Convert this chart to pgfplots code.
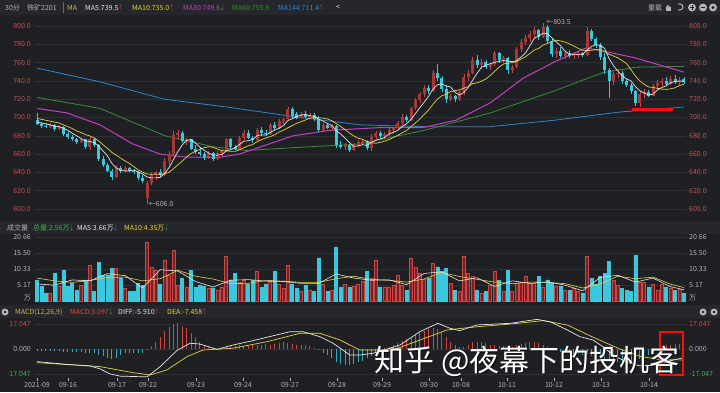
\documentclass[border=0pt]{standalone}
\usepackage{fontspec}
\setmainfont{Noto Sans CJK SC}
\usepackage{graphicx}
\usepackage{pgfplots}
\pgfplotsset{compat=1.18}
\usepackage{pgfplotstable}
\definecolor{bg}{HTML}{1F2024}
\definecolor{strip}{HTML}{26272C}
\definecolor{gridc}{HTML}{303137}
\definecolor{upc}{HTML}{D04444}
\definecolor{upb}{HTML}{A83838}
\definecolor{upf}{HTML}{6E2528}
\definecolor{dnc}{HTML}{3CC8DC}
\definecolor{ma5c}{HTML}{E6E6E6}
\definecolor{ma10c}{HTML}{E6D23C}
\definecolor{ma30c}{HTML}{C83CC8}
\definecolor{ma60c}{HTML}{3A8C3A}
\definecolor{ma144c}{HTML}{2E86D0}
\definecolor{labc}{HTML}{B4B4B4}
\definecolor{redlab}{HTML}{D84848}
\definecolor{grnlab}{HTML}{3CB04A}
\definecolor{goldc}{HTML}{C8B450}
\newcommand{\uarr}[1]{\textcolor{#1}{\scalebox{0.6}[1]{↑}}}
\newcommand{\darr}[1]{\textcolor{#1}{\scalebox{0.6}[1]{↓}}}

\pgfplotstableread{
i o h l c v
3 690 694 688 692 2.6
5 687 692 686 690 4.6
10 673 678 672 676 5.0
12 668 680 664 676 11.6
18 635 648 634 645 10.6
20 641 647 640 645 4.0
25 612 631 606 628 19.1
26 628 640 626 637 11.0
27 637 642 632 640 10.0
29 637 656 636 652 13.2
30 652 663 648 660 8.4
31 660 685 658 681 16.5
32 681 686 676 683 5.0
34 674 678 670 676 4.5
39 657 663 655 661 4.0
41 655 663 654 661 3.5
42 661 666 658 664 4.5
43 664 678 662 676 14.3
46 666 680 665 678 6.2
47 678 686 675 683 6.8
50 675 688 674 686 9.5
53 682 694 681 692 6.8
55 688 698 687 696 5.5
56 696 700 693 698 4.0
57 698 712 697 709 11.6
60 700 706 698 704 3.0
62 701 705 699 703 3.5
65 686 694 684 692 5.5
67 689 693 686 691 3.5
70 668 672 664 670 5.5
72 664 672 663 670 4.8
73 670 675 668 673 5.5
74 672 676 670 674 6.5
76 667 682 663 679 7.4
77 679 685 676 683 13.2
79 680 684 677 682 4.5
80 682 688 680 686 4.5
81 686 690 682 688 5.0
82 688 696 686 694 8.4
83 694 704 692 701 5.0
85 697 712 696 710 13.9
86 710 721 708 719 11.0
87 719 728 716 726 9.0
88 726 735 722 732 7.0
90 729 752 728 749 12.3
94 720 726 718 724 5.8
96 720 730 718 728 3.0
97 728 747 725 744 14.3
98 744 752 740 749 9.0
99 749 766 747 763 7.9
101 757 764 753 761 2.6
103 755 760 752 758 5.0
104 758 773 756 770 9.5
106 763 767 760 765 3.0
108 752 757 749 755 3.0
109 755 777 754 775 5.8
110 775 786 772 783 6.0
111 783 790 779 787 7.9
112 787 794 783 791 5.8
113 791 799 787 796 5.8
115 788 803.5 787 799 4.5
118 769 776 765 773 4.6
120 767 772 764 770 3.5
122 767 772 764 769 4.0
123 769 772 765 770 3.0
125 768 799 767 795 14.5
131 740 750 735 747 6.8
132 747 753 743 749 5.0
137 716 729 712 726 6.2
138 726 731 721 728 6.0
140 724 737 723 734 5.5
141 734 741 731 738 3.5
142 738 743 734 740 5.5
144 737 745 736 742 4.0
146 739 744 735 741 3.8
}\tup

\pgfplotstableread{
i o h l c v
0 697 705 692 693 6.8
1 693 695 689 691 4.6
2 691 694 689 690 2.6
4 692 693 685 687 9.0
6 690 691 680 682 9.8
7 682 684 677 679 4.6
8 679 681 674 676 5.8
9 676 678 671 673 3.5
11 676 677 666 668 6.8
13 676 678 668 670 3.0
14 670 671 652 655 12.4
15 655 658 646 648 8.4
16 648 650 640 642 8.4
17 642 644 632 635 10.6
19 645 647 639 641 7.4
21 645 646 640 642 3.0
22 642 644 638 640 3.0
23 640 641 632 634 5.8
24 634 637 628 631 5.0
28 640 644 635 637 5.5
33 683 685 672 674 7.4
35 676 677 664 666 10.0
36 666 670 660 662 4.5
37 662 668 658 660 5.0
38 660 662 654 657 4.8
40 661 662 653 655 4.2
44 676 678 666 668 6.8
45 668 670 664 666 9.0
48 683 686 676 678 5.5
49 678 680 672 675 6.8
51 686 690 680 683 4.5
52 683 686 680 682 5.5
54 692 695 686 688 9.5
58 709 711 700 702 5.5
59 704 706 698 700 4.2
61 704 707 700 701 5.0
63 703 705 696 698 3.0
64 698 702 684 686 13.9
66 692 694 687 689 3.0
68 691 692 667 670 17.5
69 670 674 666 668 4.5
71 670 671 662 664 4.5
75 674 675 664 667 9.5
78 683 685 678 680 4.5
84 701 703 695 697 3.5
89 732 736 726 729 7.4
91 749 758 740 743 11.0
92 743 745 728 731 9.5
93 731 735 716 720 10.6
95 724 725 717 720 3.5
100 763 768 754 757 3.5
102 761 763 753 755 3.0
105 770 772 760 763 6.8
107 765 766 748 752 10.0
114 796 797 785 788 7.9
116 799 801 781 784 6.8
117 784 786 766 769 5.8
119 773 777 765 767 4.6
121 770 774 765 767 3.5
124 770 772 766 768 2.6
126 795 797 784 786 7.4
127 786 788 776 779 5.5
128 779 781 763 766 7.9
129 766 770 748 752 9.0
130 752 754 721 740 12.7
133 749 751 737 740 4.0
134 740 742 733 735 3.5
135 735 738 726 729 3.0
136 729 730 713 716 14.8
139 728 730 722 724 4.5
143 740 744 735 737 4.5
145 742 746 737 739 3.5
147 742 744 737 739 2.56
}\tdn

\pgfplotstableread{
i m5 m10
0 695 699
1 694 698
2 693 697
3 692 696
4 690.6 695
5 690.0 694
6 688.2 692
7 686.0 690
8 682.8 688
9 680.0 685.3
10 677.2 683.6
11 674.4 681.3
12 673.8 679.9
13 672.6 677.7
14 669.0 674.5
15 663.4 670.3
16 658.2 666.3
17 650.0 661.9
18 645.0 658.8
19 642.2 655.6
20 641.6 652.5
21 641.6 649.9
22 642.6 646.3
23 640.4 642.7
24 638.4 640.3
25 635.0 638.3
26 634.0 637.8
27 634.0 638.3
28 634.6 637.5
29 638.8 638.6
30 645.2 640.1
31 654.0 644.0
32 662.6 648.3
33 670.0 652.3
34 674.8 656.8
35 676.0 660.6
36 672.2 663.1
37 667.6 665.1
38 664.2 667.1
39 661.2 668.0
40 659.0 667.5
41 658.8 665.5
42 659.6 663.6
43 663.4 663.8
44 664.8 663.0
45 667.0 663.0
46 670.4 664.6
47 674.2 666.9
48 674.6 669.0
49 676.0 670.4
50 680.0 673.5
51 681.0 675.7
52 680.8 677.5
53 683.6 679.1
54 686.2 681.1
55 688.2 684.1
56 691.2 686.1
57 696.6 688.7
58 698.6 691.1
59 701.0 693.6
60 702.6 695.4
61 703.2 697.2
62 702.0 699.3
63 701.2 699.9
64 698.4 699.7
65 696.0 699.3
66 693.6 698.4
67 691.2 696.6
68 685.6 693.4
69 682.0 690.2
70 677.6 686.8
71 672.6 683.1
72 668.4 679.8
73 669.0 677.3
74 670.2 676.1
75 669.6 673.6
76 672.6 672.6
77 675.2 671.8
78 676.6 672.8
79 678.2 674.2
80 682.0 675.8
81 683.8 678.2
82 686.0 680.6
83 690.2 683.4
84 693.2 685.7
85 698.0 690.0
86 704.2 694.0
87 710.6 698.3
88 716.8 703.5
89 723.2 708.2
90 731.0 714.5
91 735.8 720.0
92 736.8 723.7
93 734.4 725.6
94 733.4 728.3
95 727.6 729.3
96 724.6 730.2
97 727.2 732.0
98 733.0 733.7
99 740.8 737.1
100 748.2 737.9
101 754.8 739.7
102 757.0 742.1
103 758.8 745.9
104 760.2 750.5
105 761.4 754.8
106 762.2 758.5
107 761.6 759.3
108 761.0 759.9
109 762.0 761.1
110 766.0 763.7
111 770.4 766.3
112 778.2 769.9
113 786.4 773.7
114 789.0 775.5
115 792.2 779.1
116 791.6 781.0
117 787.2 782.7
118 782.6 784.5
119 778.4 783.7
120 772.6 782.4
121 769.2 780.4
122 769.2 778.2
123 768.6 775.6
124 768.8 773.6
125 773.8 773.2
126 777.6 773.4
127 779.6 774.4
128 778.8 773.7
129 775.6 772.2
130 764.6 769.2
131 756.8 767.2
132 750.8 765.2
133 745.6 762.2
134 742.2 758.9
135 740.0 752.3
136 733.8 745.3
137 729.2 740.0
138 726.8 736.2
139 724.6 733.4
140 725.6 732.8
141 730.0 731.9
142 732.8 731.0
143 734.6 730.7
144 738.2 731.4
145 739.2 732.4
146 739.8 734.9
147 739.6 736.2
}\tma

\pgfplotstableread{
i v5 v10
0 5.5 7.4
4 5.1 6.5
8 6.8 6.0
12 6.5 6.6
16 8.8 7.6
20 8.2 7.7
24 4.2 6.5
28 10.1 7.2
32 9.7 9.9
36 6.3 8.0
40 4.5 7.1
44 6.7 5.6
48 6.9 5.7
52 6.4 6.6
56 6.3 6.4
60 5.7 6.0
64 5.7 6.0
68 8.7 7.2
72 7.4 8.0
76 6.7 7.0
80 6.8 6.7
84 5.3 6.1
88 8.9 7.1
92 9.4 9.2
96 6.5 7.9
100 7.5 7.0
104 4.7 6.1
108 6.5 5.6
112 5.7 6.1
116 6.2 6.0
120 5.1 5.6
124 3.3 4.2
128 7.6 5.5
132 8.3 8.0
136 6.1 7.2
140 7.4 7.7
144 4.6 5.4
147 3.66 4.35
}\tvma

\pgfplotstableread{
i m
0 -1.2
1 -1.2
2 -1.3
3 -1.3
4 -1.5
5 -1.5
6 -1.8
7 -2
8 -2
9 -2.2
10 -2
11 -2.5
12 -2.5
13 -3
14 -4
15 -5
16 -6
17 -7
18 -6
19 -4
20 -3
21 -2.5
22 -2.5
23 -3
24 -2.5
25 -1
26 2
27 5
28 8
29 12
30 15
31 17
32 17.5
33 16
34 14
35 11
36 8
37 5
38 3
39 1.5
40 0.5
41 0.3
42 1
43 1.5
44 2
45 2
46 2.5
47 2
48 2
49 2.5
50 3
51 3
52 3.5
53 3
54 3.5
55 4
56 4.5
57 4
58 3.5
59 3
60 3
61 2.5
62 2
63 1
64 -1
65 -2.5
66 -4
67 -6
68 -9
69 -10
70 -11
71 -11
72 -10
73 -9
74 -8
75 -6
76 -5
77 -3
78 -1.5
79 0.5
80 1.5
81 3
82 4
83 5.5
84 6.5
85 8
86 9.5
87 11
88 12.5
89 13.5
90 14
91 13.5
92 11
93 8
94 5
95 3
96 1.5
97 1.5
98 3
99 4.5
100 5
101 4.5
102 4
103 3
104 2.5
105 2
106 2
107 1.5
108 1.5
109 2.5
110 3.5
111 4
112 4.5
113 4.5
114 4
115 3
116 1.5
117 0.2
118 -1
119 -2
120 -2.5
121 -3
122 -3.5
123 -3.5
124 -4
125 -3.5
126 -4.5
127 -5
128 -6
129 -7
130 -8
131 -8.5
132 -9
133 -9
134 -9
135 -8.5
136 -8
137 -7
138 -5.5
139 -4
140 -2.5
141 -1
142 1
143 2.5
144 3
145 3.5
146 3.5
147 3.1
}\tmacd

\pgfplotsset{
  panel/.style={scale only axis, width=651pt, xmin=-0.4545, xmax=147.5,
    axis line style={draw=none}, xtick=\empty, ytick=\empty},
  wick/.style={draw=none, mark=none, error bars/.cd, y dir=plus, y explicit, error mark=none,
    error bar style={draw=#1, line width=0.6pt, solid}},
  body/.style={draw=none, mark=none, error bars/.cd, y dir=plus, y explicit, error mark=none,
    error bar style={draw=#1, line width=3pt, solid}},
}

\begin{document}
\begin{tikzpicture}[every node/.style={font=\fontsize{7}{8}\selectfont, inner sep=0pt}]
\useasboundingbox (0pt,0pt) rectangle (720pt,392pt);
\fill[bg] (0pt,0pt) rectangle (720pt,392pt);
\fill[strip] (0pt,377pt) rectangle (720pt,392pt);
\fill[strip] (0pt,158pt) rectangle (720pt,171pt);
\fill[strip] (0pt,74pt) rectangle (720pt,87pt);

% ---------- main price panel ----------
\begin{axis}[panel, at={(35pt,172pt)}, anchor=south west, height=204pt,
  ymin=587.98, ymax=810.93]
\pgfplotsinvokeforeach{600,620,640,660,680,700,720,740,760,780,800}{
  \draw[gridc, line width=0.5pt] (axis cs:-0.4545,#1) -- (axis cs:147.5,#1);}
\addplot[ma144c, line width=0.8pt] coordinates {(0,754) (14.3,739) (28.9,720) (43.9,711) (58.2,701) (73.4,692) (88,690) (103,690) (117.5,697) (132.5,706) (147,711.4)};
\addplot[ma60c, line width=0.8pt] coordinates {(0,722) (14.3,710) (29.1,680) (40,668) (47.5,664) (58.2,667) (73.4,671) (88,686) (103,705) (117.5,729) (128.6,749) (136.1,755) (147,755.9)};
\addplot[ma30c, line width=1pt] coordinates {(0,710) (6.8,705) (14.3,692) (21.8,671) (28,660) (33,657) (40.9,656) (46,660) (58.2,680) (66.6,686) (78,689) (87.7,689) (95.2,697) (103,716) (110.5,743) (117.7,761) (124.8,776) (129.3,772) (136.1,765) (147,749.6)};
\addplot[wick=upc] table[x=i, y=l, y error plus expr=\thisrow{h}-\thisrow{l}] {\tup};
\addplot[body=upb] table[x=i, y=o, y error plus expr=\thisrow{c}-\thisrow{o}] {\tup};
\addplot[wick=dnc] table[x=i, y=l, y error plus expr=\thisrow{h}-\thisrow{l}] {\tdn};
\addplot[body=dnc] table[x=i, y=c, y error plus expr=\thisrow{o}-\thisrow{c}] {\tdn};
\addplot[ma10c, line width=0.7pt] table[x=i, y=m10] {\tma};
\addplot[ma5c, line width=0.7pt] table[x=i, y=m5] {\tma};
\draw[red!90!orange, line width=2.6pt] (axis cs:135.2,708.6) -- (axis cs:144.6,708.6);
\node[anchor=west, text=labc] at (axis cs:115.7,804.8) {←803.5};
\node[anchor=west, text=labc] at (axis cs:25.4,605.5) {←606.0};
\end{axis}

% ---------- volume panel ----------
\begin{axis}[panel, at={(35pt,89pt)}, anchor=south west, height=70pt,
  ymin=-0.645, ymax=21.94]
\pgfplotsinvokeforeach{5.17,10.33,15.50,20.66}{
  \draw[gridc, line width=0.5pt] (axis cs:-0.4545,#1) -- (axis cs:147.5,#1);}
\addplot[ybar, bar width=3pt, bar shift=0pt, fill=upf, draw=upc, line width=0.5pt] table[x=i, y=v] {\tup};
\addplot[ybar, bar width=3pt, bar shift=0pt, fill=dnc, draw=dnc, line width=0.5pt] table[x=i, y=v] {\tdn};
\addplot[ma10c, line width=0.6pt] table[x=i, y=v10] {\tvma};
\addplot[ma5c, line width=0.6pt] table[x=i, y=v5] {\tvma};
\end{axis}

% ---------- MACD panel ----------
\begin{axis}[panel, at={(35pt,14pt)}, anchor=south west, height=60pt,
  ymin=-19.77, ymax=21.14,
  xtick={0,7.05,18.18,25.23,36.14,46.82,57.5,68.18,78.41,89.09,96.36,106.82,117.5,128.18,139.09},
  xticklabels={2021-09,09-16,09-17,09-22,09-23,09-24,09-27,09-28,09-29,09-30,10-08,10-11,10-12,10-13,10-14},
  xtick pos=bottom, xtick align=outside, major tick length=3pt,
  x tick style={draw=labc, line width=0.5pt},
  xticklabel style={text=labc, font=\fontsize{7}{8}\selectfont, yshift=-1.5pt}]
\pgfplotsinvokeforeach{-17.047,0,17.047}{
  \draw[gridc, line width=0.5pt] (axis cs:-0.4545,#1) -- (axis cs:147.5,#1);}
\addplot[ycomb, draw=upc, line width=0.9pt, restrict y to domain=0:100] table[x=i, y=m] {\tmacd};
\addplot[ycomb, draw=dnc!85!black, line width=0.9pt, restrict y to domain=-100:0] table[x=i, y=m] {\tmacd};
\addplot[ma10c, line width=0.7pt] coordinates {(0,-9.3) (14.3,-12) (21.8,-16.1) (25.7,-17.7) (29.5,-14.3) (34.1,-5.2) (37.7,-0.7) (44.5,0.5) (52.3,5) (59.8,10.7) (64.3,10.7) (68.9,6.1) (73.4,-0.7) (80.9,-0.7) (87,6.1) (93.2,13) (100,15.2) (107.5,17) (115,19.3) (120.5,16.4) (126.4,8) (130.2,3) (132.5,0) (137,-5) (141.6,-7.2) (147,-7.46)};
\addplot[ma5c, line width=0.7pt] coordinates {(0,-8.6) (6.8,-10.5) (12,-11.5) (14.3,-13.5) (16.6,-17) (18.9,-18.5) (25,-19) (28,-12) (31.8,-1) (34.8,3.9) (37,3.4) (40.9,-0.2) (44.5,2.7) (49.1,5.7) (57.5,11.8) (60.5,11.8) (64.3,8.4) (67.3,3.9) (71.1,-4.1) (73.4,-4.1) (76.4,-2.9) (82.5,2.7) (87,11.8) (91.1,17.5) (93.9,14.1) (96.1,12.5) (100,16.4) (107.5,17.5) (113.6,20.2) (116.6,18.6) (120.5,13) (123.4,8.4) (126.4,6.1) (128.6,1.6) (130.9,-4.1) (134.1,-9) (137,-11.5) (140.5,-11) (143.9,-8) (147,-5.91)};
\draw[red!90!orange, line width=1.3pt] (axis cs:141.6,11.6) rectangle (axis cs:146.8,-17.7);
\end{axis}

% ---------- axis labels ----------
\foreach \p/\yy in {800/366.0,780/347.7,760/329.4,740/311.1,720/292.8,700/274.5,680/256.2,660/237.9,640/219.6,620/201.3,600/183.0}{
  \node[anchor=east, text=redlab] at (31pt,\yy pt) {\p.0};
  \node[anchor=west, text=redlab] at (689pt,\yy pt) {\p.0};
}
\foreach \v/\yy in {20.66/155.0,15.50/139.1,10.33/123.0,5.17/107.0}{
  \node[anchor=east, text=labc] at (31pt,\yy pt) {\v};
  \node[anchor=west, text=labc] at (689pt,\yy pt) {\v};
}
\node[anchor=east, text=labc] at (31pt,94pt) {万};
\node[anchor=west, text=labc] at (689pt,94pt) {万};
\node[anchor=east, text=redlab] at (31pt,68pt) {17.047};
\node[anchor=east, text=labc] at (31pt,43pt) {0.000};
\node[anchor=east, text=grnlab] at (31pt,18pt) {-17.047};
\node[anchor=west, text=redlab] at (689pt,68pt) {17.047};
\node[anchor=west, text=labc] at (689pt,43pt) {0.000};
\node[anchor=west, text=grnlab] at (689pt,18pt) {-17.047};

% ---------- headers ----------
\node[anchor=west, text=labc] at (5pt,384.5pt) {30分};
\node[anchor=west, text=labc] at (27pt,384.5pt) {铁矿2201};
\draw[labc!50!bg] (63pt,379pt) -- (63pt,390pt);
\node[anchor=west, text=goldc] at (67pt,384.5pt) {MA};
\node[anchor=west, text=ma5c] at (85pt,384.5pt) {MA5:739.5\uarr{upc}};
\node[anchor=west, text=ma10c] at (132pt,384.5pt) {MA10:735.0\uarr{upc}};
\node[anchor=west, text=ma30c] at (183pt,384.5pt) {MA30:749.6\darr{grnlab}};
\node[anchor=west, text=ma60c] at (232pt,384.5pt) {MA60:755.9};
\node[anchor=west, text=ma144c] at (278pt,384.5pt) {MA144:711.4\uarr{upc}};
\node[anchor=west, text=ma5c] at (336pt,384.5pt) {<};
\node[anchor=west, text=labc] at (648pt,384.5pt) {重载};
\fill[labc] (665.5pt,381pt) rectangle (670.5pt,385pt);
\draw[labc, line width=0.8pt] (666.5pt,385pt) arc (180:0:1.5pt);
\draw[labc, line width=1pt] (678pt,388pt) -- (680pt,388pt) arc (90:-90:3pt) -- (678pt,382pt);
\fill[labc] (692pt,384.5pt) circle (4pt);
\draw[bg, line width=1pt] (689.8pt,384.5pt) -- (694.2pt,384.5pt) (692pt,382.3pt) -- (692pt,386.7pt);
\fill[labc] (703pt,384.5pt) circle (4pt);
\draw[bg, line width=1pt] (700.8pt,384.5pt) -- (705.2pt,384.5pt);
\fill[labc] (713pt,384.5pt) circle (4pt);
\fill[bg] (713pt,384.5pt) circle (1.6pt);

\node[anchor=west, text=labc] at (7pt,164pt) {成交量};
\node[anchor=west, text=grnlab] at (33pt,164pt) {总量:2.56万\darr{grnlab}};
\node[anchor=west, text=ma5c] at (77pt,164pt) {MA5:3.66万\darr{grnlab}};
\node[anchor=west, text=ma10c] at (124pt,164pt) {MA10:4.35万\darr{grnlab}};

\fill[labc] (5pt,80pt) circle (3.5pt);
\fill[strip] (5pt,80pt) circle (1.4pt);
\node[anchor=west, text=goldc] at (15pt,80pt) {MACD(12,26,9)};
\node[anchor=west, text=redlab] at (70pt,80pt) {MACD:3.097\darr{grnlab}};
\node[anchor=west, text=ma5c] at (118pt,80pt) {DIFF:-5.910\uarr{upc}};
\node[anchor=west, text=ma10c] at (167pt,80pt) {DEA:-7.458\uarr{upc}};
\fill[labc] (703pt,80pt) circle (3.5pt);
\fill[strip] (703pt,80pt) circle (1.4pt);
\fill[labc] (714pt,80pt) circle (3.5pt);
\fill[strip] (714pt,80pt) circle (1.4pt);

% ---------- watermark ----------
\node[text=black, opacity=0.6, font=\fontsize{30}{30}\selectfont] at (528pt,30pt) {知乎 @夜幕下的投机客};
\node[text=white, font=\fontsize{30}{30}\selectfont] at (527pt,31pt) {知乎 @夜幕下的投机客};
\end{tikzpicture}
\end{document}
